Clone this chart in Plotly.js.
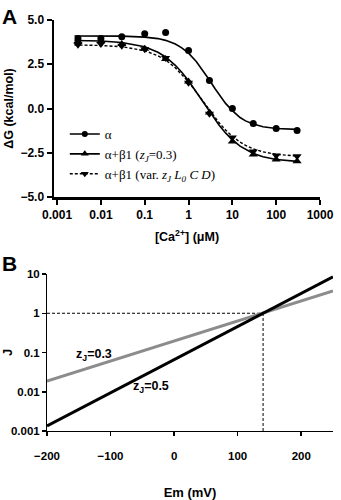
<!DOCTYPE html>
<html><head><meta charset="utf-8">
<script src="https://cdn.plot.ly/plotly-3.0.1.min.js"></script>
<style>html,body{margin:0;padding:0;background:#fff}#c{width:341px;height:500px}</style>
</head><body><div id="c"></div>
<script>
// Panel A data
var caConc = [0.003, 0.01, 0.03, 0.1, 0.3, 1, 3, 10, 30, 100, 300];
var dgAlpha = [3.95, 3.95, 4.06, 4.23, 4.29, 3.27, 1.58, 0.0, -0.85, -1.13, -1.24];
var dgBeta03 = [3.8, 3.8, 3.65, 3.38, 2.8, 1.52, -0.23, -1.86, -2.6, -2.88, -2.98];
var dgBetaVar = [3.6, 3.65, 3.55, 3.35, 2.85, 1.45, -0.3, -1.64, -2.43, -2.65, -2.7];
// Fitted curves
var fitX = [0.0025, 0.01, 0.03, 0.1, 0.2, 0.3, 0.5, 0.7, 1, 1.5, 2, 3, 4, 5, 7, 10, 15, 20, 30, 50, 100, 300];
var fitAlpha = [4.10, 4.10, 4.09, 4.03, 3.95, 3.85, 3.64, 3.43, 3.13, 2.66, 2.25, 1.61, 1.13, 0.78, 0.29, -0.12, -0.51, -0.70, -0.88, -1.03, -1.13, -1.18];
var fitBeta03 = [3.84, 3.81, 3.73, 3.49, 3.18, 2.91, 2.44, 2.05, 1.57, 0.95, 0.48, -0.18, -0.62, -0.95, -1.38, -1.77, -2.13, -2.32, -2.54, -2.73, -2.88, -2.99];
var fitBetaVar = [3.59, 3.56, 3.49, 3.27, 2.98, 2.74, 2.30, 1.94, 1.50, 0.93, 0.50, -0.11, -0.51, -0.81, -1.21, -1.58, -1.90, -2.08, -2.28, -2.45, -2.59, -2.69];
var xTicksA = [0.001, 0.01, 0.1, 1, 10, 100, 1000];
var xTickTextA = ['0.001', '0.01', '0.1', '1', '10', '100', '1000'];
var yTicksA = [-5, -2.5, 0, 2.5, 5];

// Panel B data
var emEnds = [-200, 250];
var jZ05 = [0.00135, 8.5];
var jZ03 = [0.0186, 3.7];
var crossEm = 140;
var crossJ = 1;
var yTicksB = [0.001, 0.01, 0.1, 1, 10];
var yTickTextB = ['0.001', '0.01', '0.1', '1', '10'];
var xTicksB = [-200, -100, 0, 100, 200];

var bold = {family: 'Liberation Sans, Arial, sans-serif', weight: 700, color: '#000'};
function f(sz){ return Object.assign({}, bold, {size: sz}); }

var traces = [
  {x: fitX, y: fitAlpha, mode: 'lines', line: {color: '#000', width: 1.6}, xaxis: 'x', yaxis: 'y', showlegend: false},
  {x: fitX, y: fitBeta03, mode: 'lines', line: {color: '#000', width: 1.6}, xaxis: 'x', yaxis: 'y', showlegend: false},
  {x: fitX, y: fitBetaVar, mode: 'lines', line: {color: '#000', width: 1.4, dash: '3px,2px'}, xaxis: 'x', yaxis: 'y', showlegend: false},
  {x: caConc, y: dgAlpha, mode: 'markers', marker: {symbol: 'circle', size: 7, color: '#000'}, xaxis: 'x', yaxis: 'y', showlegend: false},
  {x: caConc, y: dgBeta03, mode: 'markers', marker: {symbol: 'triangle-up', size: 8, color: '#000'}, xaxis: 'x', yaxis: 'y', showlegend: false},
  {x: caConc, y: dgBetaVar, mode: 'markers', marker: {symbol: 'triangle-down', size: 8, color: '#000'}, xaxis: 'x', yaxis: 'y', showlegend: false},
  // legend entries
  {x: [null], y: [null], mode: 'lines+markers', name: '\u03b1', marker: {symbol: 'circle', size: 6, color: '#000'}, line: {color: '#000', width: 1.6}, xaxis: 'x', yaxis: 'y'},
  {x: [null], y: [null], mode: 'lines+markers', name: '\u03b1+\u03b21 (<i>z<sub>J</sub></i>=0.3)', marker: {symbol: 'triangle-up', size: 7, color: '#000'}, line: {color: '#000', width: 1.6}, xaxis: 'x', yaxis: 'y'},
  {x: [null], y: [null], mode: 'lines+markers', name: '\u03b1+\u03b21 (var. <i>z<sub>J</sub> L<sub>0</sub> C D</i>)', marker: {symbol: 'triangle-down', size: 7, color: '#000'}, line: {color: '#000', width: 1.4, dash: '3px,2px'}, xaxis: 'x', yaxis: 'y'},
  // Panel B
  {x: [emEnds[0], crossEm], y: [crossJ, crossJ], mode: 'lines', line: {color: '#000', width: 1, dash: '3px,2px'}, xaxis: 'x2', yaxis: 'y2', showlegend: false},
  {x: [crossEm, crossEm], y: [yTicksB[0], crossJ], mode: 'lines', line: {color: '#000', width: 1, dash: '3px,2px'}, xaxis: 'x2', yaxis: 'y2', showlegend: false},
  {x: emEnds, y: jZ03, mode: 'lines', line: {color: '#8c8c8c', width: 3}, xaxis: 'x2', yaxis: 'y2', showlegend: false},
  {x: emEnds, y: jZ05, mode: 'lines', line: {color: '#000', width: 3}, xaxis: 'x2', yaxis: 'y2', showlegend: false}
];

var layout = {
  width: 341, height: 500,
  margin: {l: 0, r: 0, t: 0, b: 0},
  paper_bgcolor: '#fff', plot_bgcolor: 'rgba(0,0,0,0)',
  showlegend: true,
  legend: {x: 0.19, y: 0.762, xanchor: 'left', yanchor: 'top', bgcolor: 'rgba(0,0,0,0)',
    font: {family: 'Liberation Serif, Times New Roman, serif', size: 13, color: '#000'},
    itemwidth: 30, tracegroupgap: 0},
  xaxis: {type: 'log', domain: [54/341, 320/341], range: [-3.07, 3.0], anchor: 'y',
    tickvals: xTicksA, ticktext: xTickTextA, ticks: 'outside', ticklen: 5, tickwidth: 2, tickcolor: '#000',
    showline: true, linecolor: '#000', linewidth: 2.5, showgrid: false, zeroline: false,
    tickfont: f(12), title: {text: '[Ca<sup>2+</sup>] (\u03bcM)', font: f(12.5), standoff: 12}},
  yaxis: {domain: [1 - 197/500, 1 - 20/500], range: [-5, 5], anchor: 'x',
    tickvals: yTicksA, tickformat: '.1f', ticks: 'outside', ticklen: 5, tickwidth: 2, tickcolor: '#000',
    showline: true, linecolor: '#000', linewidth: 2.5, showgrid: false, zeroline: false,
    tickfont: f(12), title: {text: '\u0394G (kcal/mol)', font: f(12.5), standoff: 4}},
  xaxis2: {domain: [47/341, 333/341], range: [-200, 250], anchor: 'y2',
    tickvals: xTicksB, ticks: 'outside', ticklen: 4, tickwidth: 1.5, tickcolor: '#000', ticklabelstandoff: 10,
    showline: true, linecolor: '#000', linewidth: 1, showgrid: false, zeroline: false,
    tickfont: f(11.5), title: {text: 'Em (mV)', font: f(13), standoff: 46}},
  yaxis2: {type: 'log', domain: [1 - 431/500, 1 - 274/500], range: [-3, 1], anchor: 'x2',
    tickvals: yTicksB, ticktext: yTickTextB, ticks: 'outside', ticklen: 4, tickwidth: 1.5, tickcolor: '#000',
    showline: true, linecolor: '#000', linewidth: 1, showgrid: false, zeroline: false,
    tickfont: f(11.5), title: {text: 'J', font: f(13), standoff: 12}},
  annotations: [
    {text: 'A', xref: 'paper', yref: 'paper', x: 0.0, y: 1 - 3/500, xanchor: 'left', yanchor: 'top', showarrow: false, font: f(21)},
    {text: 'B', xref: 'paper', yref: 'paper', x: 0.0, y: 1 - 250/500, xanchor: 'left', yanchor: 'top', showarrow: false, font: f(21)},
    {text: 'z<sub>J</sub>=0.3', xref: 'x2', yref: 'y2', x: -126, y: Math.log10(0.085), showarrow: false, font: f(12.5)},
    {text: 'z<sub>J</sub>=0.5', xref: 'x2', yref: 'y2', x: -36, y: Math.log10(0.013), showarrow: false, font: f(12.5)}
  ]
};

Plotly.newPlot('c', traces, layout, {displayModeBar: false, staticPlot: true});
</script></body></html>
